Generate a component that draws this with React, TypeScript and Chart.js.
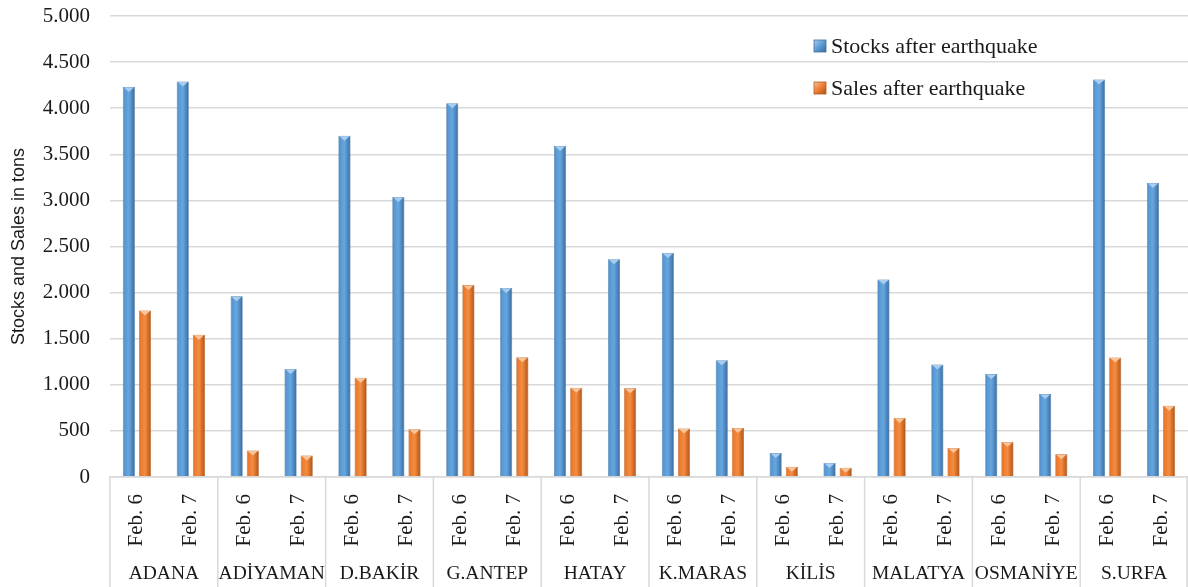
import React, { useEffect, useRef } from "react";
import { Chart, registerables } from "chart.js";

Chart.register(...registerables);

const cities = ["ADANA", "ADİYAMAN", "D.BAKİR", "G.ANTEP", "HATAY", "K.MARAS", "KİLİS", "MALATYA", "OSMANİYE", "S.URFA"];
const days = ["Feb. 6", "Feb. 7"];
const stocks = [4230, 4290, 1960, 1172, 3702, 3038, 4055, 2050, 3590, 2362, 2430, 1266, 260, 152, 2141, 1219, 1116, 899, 4310, 3190];
const sales = [1806, 1543, 287, 234, 1076, 518, 2082, 1300, 968, 962, 526, 532, 112, 101, 640, 315, 380, 246, 1295, 773];
const seriesNames = ["Stocks after earthquake", "Sales after earthquake"];
const yTicks = { min: 0, max: 5000, step: 500 };

const labels: string[] = [];
cities.forEach(() => days.forEach((d) => labels.push(d)));

const SERIF = "'Liberation Serif', 'DejaVu Serif', serif";
const SANS = "'Liberation Sans', 'Noto Sans', sans-serif";
const CAT_PCT = 0.6;
const BAR_PCT = 0.75;

const palettes = [
  { stops: ["#4a86c4", "#5b9bd5", "#66a6df", "#4f89c2", "#3a6a99"], light: "#a9cdf0", edge: "#41719c" },
  { stops: ["#df7029", "#ed7d31", "#f48d40", "#d56e28", "#a8551c"], light: "#f9c49a", edge: "#ae5a21" },
];

function fmt(v: number) {
  return String(v).replace(/\B(?=(\d{3})+(?!\d))/g, ".");
}

function barFill(ctx: any) {
  const ds = ctx.datasetIndex;
  const pal = palettes[ds];
  const chart = ctx.chart;
  const xs = chart.scales && chart.scales.x;
  if (ctx.type !== "data" || !xs || !isFinite(xs.left)) return pal.stops[1];
  const catW = (xs.right - xs.left) / labels.length;
  const slot = (catW * CAT_PCT) / 2;
  const bw = slot * BAR_PCT;
  const c = xs.getPixelForValue(ctx.dataIndex) + (ds === 0 ? -slot / 2 : slot / 2);
  const g = chart.ctx.createLinearGradient(c - bw / 2, 0, c + bw / 2, 0);
  const s = pal.stops;
  g.addColorStop(0, s[0]);
  g.addColorStop(0.2, s[1]);
  g.addColorStop(0.5, s[2]);
  g.addColorStop(0.75, s[3]);
  g.addColorStop(1, s[4]);
  return g;
}

const decorPlugin = {
  id: "decor",
  afterDatasetsDraw(chart: any) {
    const ctx = chart.ctx;
    chart.data.datasets.forEach((_: any, di: number) => {
      const meta = chart.getDatasetMeta(di);
      const pal = palettes[di];
      meta.data.forEach((bar: any) => {
        const { x, y, width } = bar.getProps(["x", "y", "width"], true);
        ctx.save();
        ctx.fillStyle = pal.light;
        ctx.beginPath();
        ctx.moveTo(x - width / 2 + 1, y + 0.5);
        ctx.lineTo(x + width / 2 - 1, y + 0.5);
        ctx.lineTo(x, y + 5);
        ctx.closePath();
        ctx.fill();
        ctx.restore();
      });
    });
  },
  afterDraw(chart: any) {
    const ctx = chart.ctx;
    const xs = chart.scales.x;
    const catW = (xs.right - xs.left) / labels.length;
    ctx.save();
    ctx.strokeStyle = "#d9d9d9";
    ctx.lineWidth = 1.5;
    for (let g = 0; g <= cities.length; g++) {
      const x = Math.min(xs.left + g * 2 * catW, chart.width - 1);
      ctx.beginPath();
      ctx.moveTo(x, xs.top);
      ctx.lineTo(x, chart.height);
      ctx.stroke();
    }
    ctx.fillStyle = "#1a1a1a";
    ctx.font = `19.5px ${SERIF}`;
    ctx.textAlign = "center";
    ctx.textBaseline = "middle";
    cities.forEach((c, g) => {
      ctx.fillText(c, xs.left + (2 * g + 1) * catW, 574);
    });
    // legend
    ctx.font = `22px ${SERIF}`;
    ctx.textAlign = "left";
    seriesNames.forEach((n, i) => {
      const y = 46 + i * 42;
      const pal = palettes[i];
      const gr = ctx.createLinearGradient(814, y - 6, 826, y + 6);
      gr.addColorStop(0, pal.light);
      gr.addColorStop(0.5, pal.stops[1]);
      gr.addColorStop(1, pal.stops[4]);
      ctx.fillStyle = gr;
      ctx.fillRect(814, y - 6, 12, 12);
      ctx.strokeStyle = pal.edge;
      ctx.lineWidth = 0.8;
      ctx.strokeRect(814, y - 6, 12, 12);
      ctx.fillStyle = "#1a1a1a";
      ctx.fillText(n, 831, y + 1);
    });
    ctx.restore();
  },
};

export default function App() {
  const ref = useRef<HTMLCanvasElement>(null);
  useEffect(() => {
    if (!ref.current) return;
    const chart = new Chart(ref.current, {
      type: "bar",
      data: {
        labels,
        datasets: [
          { label: seriesNames[0], data: stocks, backgroundColor: barFill, borderColor: palettes[0].edge, borderWidth: 0.6, categoryPercentage: CAT_PCT, barPercentage: BAR_PCT },
          { label: seriesNames[1], data: sales, backgroundColor: barFill, borderColor: palettes[1].edge, borderWidth: 0.6, categoryPercentage: CAT_PCT, barPercentage: BAR_PCT },
        ],
      },
      options: {
        responsive: false,
        animation: false,
        layout: { padding: { top: 16, right: 0, left: 0, bottom: 0 } },
        plugins: { legend: { display: false }, tooltip: { enabled: false } },
        scales: {
          x: {
            grid: { display: true, drawOnChartArea: false, drawTicks: false, color: "rgba(0,0,0,0)" },
            border: { display: true, color: "#d9d9d9", width: 1.5 },
            ticks: {
              autoSkip: false,
              minRotation: 90,
              maxRotation: 90,
              padding: 17,
              color: "#1a1a1a",
              font: { family: SERIF, size: 21 },
            },
            afterFit: (s: any) => {
              s.height = 110;
              s.paddingLeft = 0;
              s.paddingRight = 0;
            },
          },
          y: {
            min: yTicks.min,
            max: yTicks.max,
            grid: { color: "#d9d9d9", lineWidth: 1.5, drawTicks: false },
            border: { display: false },
            ticks: {
              stepSize: yTicks.step,
              padding: 20,
              color: "#1a1a1a",
              font: { family: SERIF, size: 21 },
              callback: (v: any) => fmt(Number(v)),
            },
            title: {
              display: true,
              text: "Stocks and Sales in tons",
              color: "#1a1a1a",
              font: { family: SANS, size: 18 },
              padding: { top: 8, bottom: 0 },
            },
            afterFit: (s: any) => {
              s.width = 110;
              s.paddingTop = 0;
              s.paddingBottom = 0;
            },
          },
        },
      },
      plugins: [decorPlugin],
    });
    return () => chart.destroy();
  }, []);
  return (
    <div style={{ position: "fixed", left: 0, top: 0, width: 1188, height: 587, background: "#fff" }}>
      <canvas ref={ref} width={1188} height={587} />
    </div>
  );
}
